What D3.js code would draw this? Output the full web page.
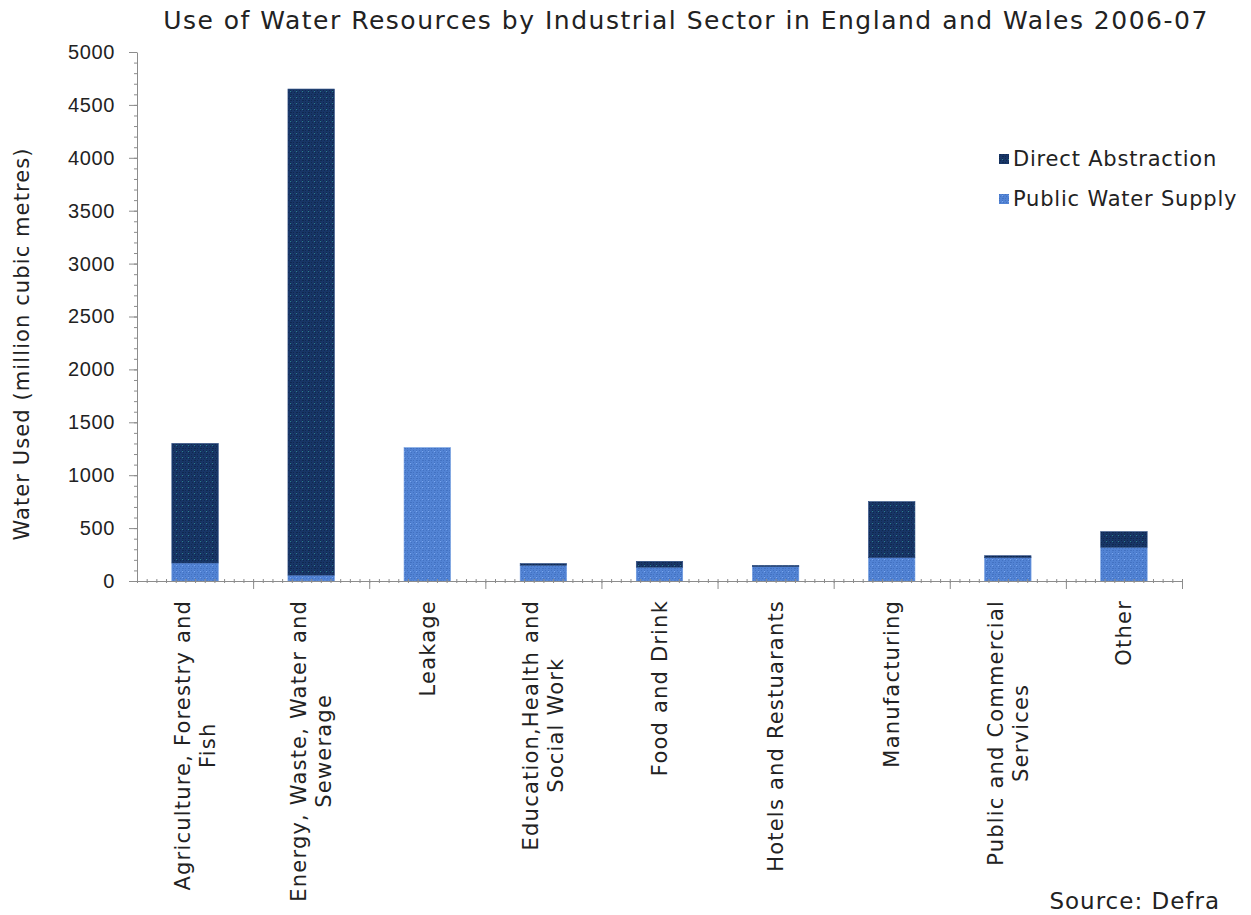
<!DOCTYPE html>
<html>
<head>
<meta charset="utf-8">
<script src="https://cdn.jsdelivr.net/npm/d3@7"></script>
<style>
  html, body { margin: 0; padding: 0; background: #fff; }
  svg { display: block; font-family: "DejaVu Sans", Verdana, sans-serif; }
</style>
</head>
<body>
<svg id="chart" width="1251" height="915"></svg>
<script>
// Water use by sector, million cubic metres
const categories = [
  "Agriculture, Forestry and Fish",
  "Energy, Waste, Water and Sewerage",
  "Leakage",
  "Education,Health and Social Work",
  "Food and Drink",
  "Hotels and Restuarants",
  "Manufacturing",
  "Public and Commercial Services",
  "Other"
];
// wrapped tick labels, one entry per category
const tickLabels = [
  ["Agriculture, Forestry and", "Fish"],
  ["Energy, Waste, Water and", "Sewerage"],
  ["Leakage"],
  ["Education,Health and", "Social Work"],
  ["Food and Drink"],
  ["Hotels and Restuarants"],
  ["Manufacturing"],
  ["Public and Commercial", "Services"],
  ["Other"]
];
const publicWaterSupply = [170, 55, 1260, 148, 130, 135, 220, 220, 318];
const directAbstraction = [1130, 4595, 0, 17, 56, 13, 530, 19, 148];
const seriesNames = ["Public Water Supply", "Direct Abstraction"];
const yTicks = [0, 500, 1000, 1500, 2000, 2500, 3000, 3500, 4000, 4500, 5000];

const svg = d3.select("#chart");
const margin = { left: 137, right: 69, top: 52, bottom: 334 };
const W = 1251, H = 915;
const plotW = W - margin.left - margin.right;
const plotH = H - margin.top - margin.bottom;
const ink = "#222";

// textured fills
const defs = svg.append("defs");
function texture(id, base, shade, dot) {
  const p = defs.append("pattern").attr("id", id)
    .attr("patternUnits", "userSpaceOnUse").attr("width", 6).attr("height", 6);
  p.append("rect").attr("width", 6).attr("height", 6).attr("fill", base);
  [[0,0],[2,2],[4,4],[0,4],[4,0],[2,0],[0,2]].forEach(([x, y], i) => {
    p.append("rect").attr("x", x + (i % 2)).attr("y", y).attr("width", 1).attr("height", 1).attr("fill", shade);
  });
  p.append("rect").attr("x", 3).attr("y", 3).attr("width", 1).attr("height", 1).attr("fill", dot);
  return `url(#${id})`;
}
const fillDirect = texture("texDirect", "#183667", "#10284f", "#2e7f8c");
const fillPublic = texture("texPublic", "#5283d4", "#4372c2", "#7ba7ee");

const g = svg.append("g").attr("transform", `translate(${margin.left},${margin.top})`);

const x = d3.scaleBand().domain(categories).range([0, plotW]).paddingInner(0.6).paddingOuter(0.3);
const y = d3.scaleLinear().domain([0, 5000]).range([plotH, 0]);

const rows = categories.map((c, i) => ({
  category: c,
  "Public Water Supply": publicWaterSupply[i],
  "Direct Abstraction": directAbstraction[i]
}));
const stacked = d3.stack().keys(seriesNames)(rows);
const fills = { "Public Water Supply": fillPublic, "Direct Abstraction": fillDirect };
const edges = { "Public Water Supply": "#6f9be0", "Direct Abstraction": "#2a4a80" };

stacked.forEach(layer => {
  g.append("g").selectAll("rect").data(layer).join("rect")
    .attr("x", d => x(d.data.category))
    .attr("width", x.bandwidth())
    .attr("y", d => y(d[1]))
    .attr("height", d => Math.max(0, y(d[0]) - y(d[1])))
    .attr("fill", fills[layer.key])
    .attr("stroke", edges[layer.key])
    .attr("stroke-width", 0.6);
});

const axisColor = "#8c8c8c";

// y axis: minor ticks, then major ticks with labels
g.append("g")
  .call(d3.axisLeft(y).tickValues(d3.range(0, 5001, 100)).tickSize(3).tickFormat(""))
  .call(a => a.select(".domain").remove())
  .selectAll("line").attr("stroke", axisColor);
const yAxis = g.append("g")
  .call(d3.axisLeft(y).tickValues(yTicks).tickSize(8).tickSizeOuter(0).tickPadding(14).tickFormat(d3.format("d")));
yAxis.select(".domain").attr("stroke", axisColor);
yAxis.selectAll("line").attr("stroke", axisColor);
yAxis.selectAll("text").attr("font-size", 20).attr("letter-spacing", 0.6).attr("fill", ink);

// x axis with minor marks and category separators
const xLin = d3.scaleLinear().domain([0, categories.length]).range([0, plotW]);
const xAxisG = g.append("g").attr("transform", `translate(0,${plotH})`);
xAxisG.append("g")
  .call(d3.axisBottom(xLin).tickValues(d3.range(0, categories.length + 0.001, 1 / 12)).tickSize(2).tickFormat(""))
  .call(a => a.select(".domain").remove())
  .selectAll("line").attr("stroke", axisColor).attr("y1", -2);
const xMajor = xAxisG.append("g")
  .call(d3.axisBottom(xLin).tickValues(d3.range(1, categories.length + 1)).tickSize(8).tickSizeOuter(0).tickFormat(""));
xMajor.select(".domain").attr("stroke", axisColor);
xMajor.selectAll("line").attr("stroke", axisColor);

// rotated category labels, lines centred on each other
const lineH = 25;
const labelTop = plotH + 19;
categories.forEach((c, i) => {
  const lines = tickLabels[i];
  const cx = x(c) + x.bandwidth() / 2;
  const t = g.append("text")
    .attr("font-size", 21).attr("letter-spacing", 1.2).attr("fill", ink)
    .attr("text-anchor", "middle");
  lines.forEach((ln, k) => {
    t.append("tspan").attr("x", 0).attr("y", (k - (lines.length - 1) / 2) * lineH).attr("dy", "0.35em").text(ln);
  });
  const longest = d3.max(t.selectAll("tspan").nodes(), n => n.getComputedTextLength());
  t.attr("transform", `translate(${cx},${labelTop + longest / 2}) rotate(-90)`);
});

// title
svg.append("text")
  .attr("x", 686).attr("y", 29)
  .attr("text-anchor", "middle")
  .attr("font-size", 25).attr("letter-spacing", 1.5).attr("fill", ink)
  .text("Use of Water Resources by Industrial Sector in England and Wales 2006-07");

// y axis title
svg.append("text")
  .attr("transform", "translate(29,344) rotate(-90)")
  .attr("text-anchor", "middle")
  .attr("font-size", 21).attr("letter-spacing", 1.1).attr("fill", ink)
  .text("Water Used (million cubic metres)");

// legend
const legend = svg.append("g").attr("transform", "translate(999,0)");
[["Direct Abstraction", fillDirect, 159], ["Public Water Supply", fillPublic, 199]].forEach(([name, f, ly]) => {
  legend.append("rect").attr("x", 0).attr("y", ly - 5).attr("width", 10).attr("height", 10).attr("fill", f);
  legend.append("text").attr("x", 14).attr("y", ly).attr("dy", "0.35em")
    .attr("font-size", 21).attr("letter-spacing", 0.8).attr("fill", ink).text(name);
});

// source note
svg.append("text")
  .attr("x", 1220).attr("y", 909)
  .attr("text-anchor", "end")
  .attr("font-size", 23).attr("letter-spacing", 1).attr("fill", ink)
  .text("Source: Defra");
</script>
</body>
</html>
